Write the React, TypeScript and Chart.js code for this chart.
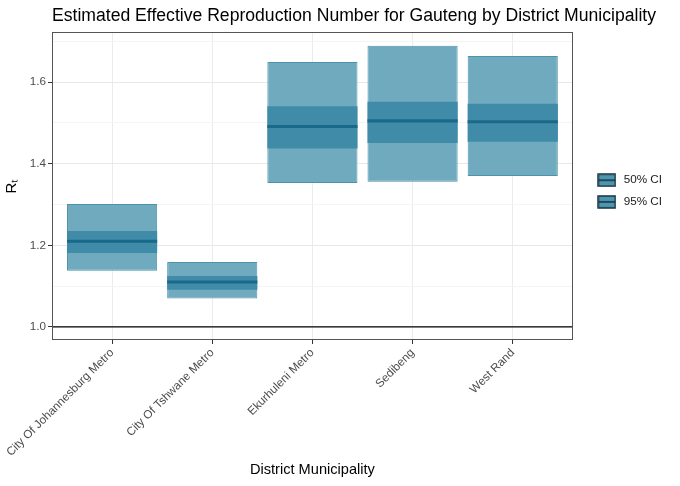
import React, { useEffect, useRef } from 'react';
import { Chart, registerables } from 'chart.js';

Chart.register(...registerables);

const categories = [
  'City Of Johannesburg Metro',
  'City Of Tshwane Metro',
  'Ekurhuleni Metro',
  'Sedibeng',
  'West Rand',
];
const ci95Lower = [1.138, 1.07, 1.353, 1.356, 1.37];
const ci95Upper = [1.301, 1.159, 1.649, 1.689, 1.664];
const ci50Lower = [1.181, 1.091, 1.437, 1.451, 1.454];
const ci50Upper = [1.235, 1.125, 1.541, 1.552, 1.547];
const medians = [1.21, 1.11, 1.491, 1.505, 1.503];
const yGridValues = [1.0, 1.1, 1.2, 1.3, 1.4, 1.5, 1.6, 1.7];
const yTickLabels = ['1.0', '', '1.2', '', '1.4', '', '1.6', ''];
const referenceValue = 1.0;
const legendLabels = ['50% CI', '95% CI'];

const FONT = '"Liberation Sans", Arial, Helvetica, sans-serif';

function makeKey(): HTMLCanvasElement {
  const c = document.createElement('canvas');
  c.width = 19;
  c.height = 14;
  const g = c.getContext('2d')!;
  g.fillStyle = '#4d95b0';
  g.fillRect(1, 1, 17, 12);
  g.strokeStyle = '#16323d';
  g.lineWidth = 1.5;
  g.strokeRect(1, 1, 17, 12);
  g.beginPath();
  g.moveTo(1, 7);
  g.lineTo(18, 7);
  g.stroke();
  return c;
}

export default function App() {
  const ref = useRef<HTMLCanvasElement | null>(null);

  useEffect(() => {
    if (!ref.current) return;
    const key = makeKey();
    const xs = categories.map((_, i) => i + 1);
    const medianHalf = 0.0037;

    const panelBorder = {
      id: 'panelBorder',
      afterLayout(chart: any) {
        // left-align the plot title with the panel, as ggplot does
        if (chart.titleBlock) chart.titleBlock.left = chart.chartArea.left;
      },
      afterDatasetsDraw(chart: any) {
        const { ctx, chartArea: a } = chart;
        ctx.save();
        ctx.strokeStyle = '#555555';
        ctx.lineWidth = 1;
        ctx.strokeRect(Math.round(a.left) + 0.5, Math.round(a.top) + 0.5, Math.round(a.right - a.left) - 1, Math.round(a.bottom - a.top) - 1);
        ctx.restore();
      },
    };

    const chart = new Chart(ref.current, {
      type: 'bar',
      data: {
        datasets: [
          {
            type: 'line',
            label: 'ref',
            data: [
              { x: 0.4, y: referenceValue },
              { x: 5.6, y: referenceValue },
            ],
            borderColor: '#000000',
            borderWidth: 1.3,
            pointRadius: 0,
            order: 10,
          } as any,
          {
            label: '95% CI',
            data: xs.map((x, i) => ({ x, y: [ci95Lower[i], ci95Upper[i]] })),
            backgroundColor: '#70aabf',
            borderColor: '#4b93ad',
            borderWidth: 1,
            borderSkipped: false,
            grouped: false,
            barPercentage: 0.9,
            categoryPercentage: 1,
            order: 3,
          } as any,
          {
            label: '50% CI',
            data: xs.map((x, i) => ({ x, y: [ci50Lower[i], ci50Upper[i]] })),
            backgroundColor: '#408ba8',
            borderWidth: 0,
            borderSkipped: false,
            grouped: false,
            barPercentage: 0.9,
            categoryPercentage: 1,
            order: 2,
          } as any,
          {
            label: 'median',
            data: xs.map((x, i) => ({ x, y: [medians[i] - medianHalf, medians[i] + medianHalf] })),
            backgroundColor: '#19698a',
            borderWidth: 0,
            grouped: false,
            barPercentage: 0.9,
            categoryPercentage: 1,
            order: 1,
          } as any,
        ],
      },
      options: {
        responsive: false,
        animation: false,
        devicePixelRatio: 1,
        layout: { padding: { left: 0, right: 8, top: 0, bottom: 0 } },
        font: { family: FONT },
        plugins: {
          tooltip: { enabled: false },
          title: {
            display: true,
            align: 'start',
            text: 'Estimated Effective Reproduction Number for Gauteng by District Municipality',
            color: '#000000',
            font: { family: FONT, size: 17.6, weight: 'normal' },
            padding: { top: 6, bottom: 5 },
          },
          legend: {
            position: 'right',
            fullSize: false,
            onClick: () => {},
            title: {
              display: true,
              text: ' ',
              font: { family: FONT, size: 8, lineHeight: 1.25 },
              padding: 0,
            },
            labels: {
              usePointStyle: true,
              pointStyleWidth: 22,
              boxHeight: 12,
              padding: 10,
              color: '#1a1a1a',
              font: { family: FONT, size: 11.7 },
              generateLabels: () =>
                legendLabels.map((t, i) => ({
                  text: t,
                  pointStyle: key,
                  fillStyle: '#4d95b0',
                  strokeStyle: '#16323d',
                  fontColor: '#1a1a1a',
                  lineWidth: 1,
                  hidden: false,
                  datasetIndex: i,
                })) as any,
            },
          },
        },
        scales: {
          x: {
            type: 'linear',
            min: 0.4,
            max: 5.6,
            offset: false,
            afterBuildTicks: (s: any) => {
              s.ticks = xs.map((v) => ({ value: v }));
            },
            afterFit: (s: any) => {
              s.height = 146;
              s.paddingLeft = 0;
              s.paddingRight = 0;
            },
            ticks: {
              autoSkip: false,
              minRotation: 45,
              maxRotation: 45,
              padding: 2,
              color: '#4d4d4d',
              font: { family: FONT, size: 11.7 },
              callback: (v: any) => categories[Math.round(Number(v)) - 1] ?? '',
            },
            grid: {
              offset: false,
              color: '#ebebeb',
              tickColor: '#333333',
              tickLength: 4,
            },
            border: { display: false },
            title: {
              display: true,
              text: 'District Municipality',
              color: '#000000',
              font: { family: FONT, size: 14.6 },
              padding: { top: 0, bottom: 7 },
            },
          },
          y: {
            type: 'linear',
            min: 0.968,
            max: 1.7225,
            afterBuildTicks: (s: any) => {
              s.ticks = yGridValues.map((v) => ({ value: v }));
            },
            afterFit: (s: any) => {
              s.width = 52;
            },
            ticks: {
              padding: 2,
              color: '#4d4d4d',
              font: { family: FONT, size: 11.7 },
              callback: (_v: any, i: number) => yTickLabels[i] ?? '',
            },
            grid: {
              color: (c: any) => (c.index % 2 === 0 ? '#e8e8e8' : '#f4f4f4'),
              tickColor: (c: any) => (c.index % 2 === 0 ? '#333333' : 'rgba(0,0,0,0)'),
              tickLength: 4,
            },
            border: { display: false },
            title: {
              display: true,
              text: 'Rₜ',
              color: '#000000',
              font: { family: FONT, size: 15 },
              padding: { top: 3, bottom: 0 },
            },
          },
          spacer: {
            type: 'linear',
            position: 'right',
            display: true,
            grid: { display: false, drawTicks: false },
            ticks: { display: false },
            border: { display: false },
            afterFit: (s: any) => {
              s.width = 13;
            },
          },
        },
      } as any,
      plugins: [panelBorder],
    });

    return () => chart.destroy();
  }, []);

  return (
    <div style={{ position: 'fixed', left: 0, top: 0, width: 680, height: 486, background: '#ffffff' }}>
      <canvas ref={ref} width={680} height={486} style={{ width: 680, height: 486, display: 'block' }} />
    </div>
  );
}
